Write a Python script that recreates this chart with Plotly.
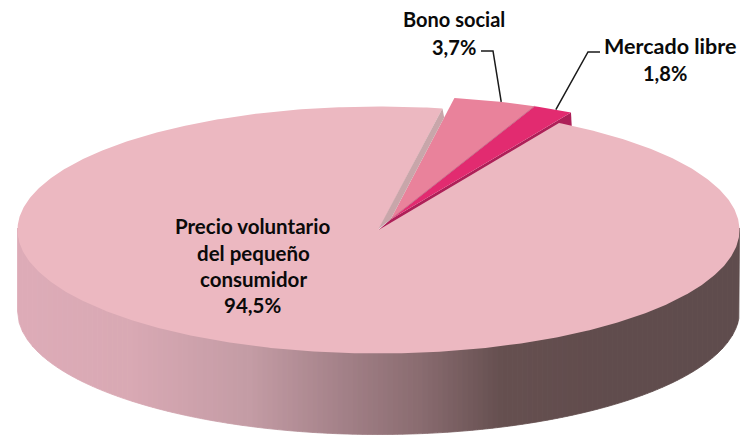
import numpy as np
import plotly.graph_objects as go

# --- data ---
categories = ["Precio voluntario del pequeño consumidor", "Bono social", "Mercado libre"]
shares = [94.5, 3.7, 1.8]
share_labels = ["94,5%", "3,7%", "1,8%"]

# --- drawing styles ---
MAIN, BONO, MERCADO = "#ecb8c1", "#e9829b", "#e22b70"
MERCADO_WALL = "#ad2058"
CUT_WALL = "#c8a6aa"
WALL_X = [17, 130, 250, 350, 420, 500, 600, 740]
WALL_C = [(222, 172, 184), (217, 169, 180), (196, 156, 165), (161, 127, 134),
          (138, 108, 112), (102, 80, 80), (97, 76, 77), (95, 77, 77)]

RX, RY, DEPTH = 361, 123.5, 81
MAIN_C = (378.5, 230)
OUT_C = (390.5, 219.5)
START = 30.0  # clockwise from 12 o'clock; the big slice starts here


def pt(center, deg, r=1.0):
    a = np.radians(deg)
    return center[0] + r * RX * np.sin(a), center[1] - r * RY * np.cos(a)


def wedge(center, a0, a1):
    t = np.linspace(a0, a1, max(int(abs(a1 - a0) * 2), 6))
    x, y = pt(center, t)
    return [center[0], *x, center[0]], [center[1], *y, center[1]]


def poly(x, y, color, line=None, width=0):
    return go.Scatter(x=list(x), y=list(y), mode="lines", fill="toself", fillcolor=color,
                      line=dict(color=line or color, width=width), hoverinfo="skip", showlegend=False)


sweeps = [s * 3.6 for s in shares]
a_main_end = START + sweeps[0]
a_bono_end = a_main_end + sweeps[1]
a_merc_end = a_bono_end + sweeps[2]

fig = go.Figure()

# side wall of the big slice, in thin shaded strips
edges = np.arange(MAIN_C[0] - RX, MAIN_C[0] + RX + 5, 5.0)
edges[-1] = MAIN_C[0] + RX
for x0, x1 in zip(edges[:-1], edges[1:]):
    xs = np.linspace(x0, x1, 4)
    u = np.clip((xs - MAIN_C[0]) / RX, -1, 1)
    yt = MAIN_C[1] + RY * np.sqrt(1 - u ** 2) - 2
    yb = yt + 2 + DEPTH
    xm = (x0 + x1) / 2
    c = [int(np.interp(xm, WALL_X, [w[i] for w in WALL_C])) for i in range(3)]
    col = f"rgb({c[0]},{c[1]},{c[2]})"
    fig.add_trace(poly([*xs, *xs[::-1], xs[0]], [*yt, *yb[::-1], yt[0]], col, width=0.8))

# radial wall of the pulled-out slice, reaching back to the tip of the big slice
xo, yo = pt(OUT_C, a_merc_end)
fig.add_trace(poly([OUT_C[0], xo, xo + 1, OUT_C[0], MAIN_C[0], OUT_C[0]],
                   [OUT_C[1], yo, yo + 19, OUT_C[1] + 19, MAIN_C[1], OUT_C[1]], MERCADO_WALL))

# pulled-out slices
x, y = wedge(OUT_C, a_main_end, a_bono_end)
fig.add_trace(poly(x, y, BONO))
x, y = wedge(OUT_C, a_bono_end, a_merc_end)
fig.add_trace(poly(x, y, MERCADO))

# big slice top
x, y = wedge(MAIN_C, START, a_main_end)
fig.add_trace(poly(x, y, MAIN))

# cut face of the big slice, closing the gap up to the edge of the next slice
xe, ye = pt(MAIN_C, a_main_end)
xi, yi = pt(OUT_C, a_main_end, 0.84)
fig.add_trace(poly([xe, xi, OUT_C[0], MAIN_C[0], xe],
                   [ye, yi, OUT_C[1], MAIN_C[1] - 1, ye], CUT_WALL))

# separator between the two pulled-out slices
xs, ys = pt(OUT_C, a_bono_end)
fig.add_trace(go.Scatter(x=[OUT_C[0], xs], y=[OUT_C[1], ys], mode="lines",
                         line=dict(color="#c96f8c", width=1), hoverinfo="skip", showlegend=False))

# leader lines
bx, by = pt(OUT_C, (a_main_end + a_bono_end) / 2 + 1.0)
mx, my = pt(OUT_C, (a_bono_end + a_merc_end) / 2 + 0.5)
fig.add_trace(go.Scatter(x=[481, 493, bx], y=[51, 51, by], mode="lines",
                         line=dict(color="#1a1a1a", width=1.5), hoverinfo="skip", showlegend=False))
fig.add_trace(go.Scatter(x=[600, 588, mx], y=[52, 52, my], mode="lines",
                         line=dict(color="#1a1a1a", width=1.5), hoverinfo="skip", showlegend=False))

# labels, one line per annotation to hold the original line spacing
main_lines = ["Precio voluntario", "del pequeño", "consumidor", share_labels[0]]
placed = [(252, 226, main_lines[0], 20.5), (253, 253, main_lines[1], 20.5), (253, 279, main_lines[2], 20.5),
          (252, 305, main_lines[3], 20.5), (454, 19, categories[1], 20), (454, 47, share_labels[1], 20),
          (670, 46, categories[2], 21.5), (665, 73, share_labels[2], 20)]
for px, py, txt, size in placed:
    fig.add_annotation(x=px, y=py, text=f"<b>{txt}</b>", showarrow=False, xanchor="center", yanchor="middle",
                       font=dict(family="Lato", size=size, color="#0a0a0a"))

fig.update_layout(
    width=742, height=437, margin=dict(l=0, r=0, t=0, b=0), autosize=False,
    paper_bgcolor="white", plot_bgcolor="white", showlegend=False,
    xaxis=dict(range=[0, 742], visible=False, fixedrange=True),
    yaxis=dict(range=[437, 0], visible=False, fixedrange=True),
)
fig.write_html("out.html", config={"displayModeBar": False},
               post_script="document.body.style.margin='0';document.documentElement.style.overflow='hidden';")
